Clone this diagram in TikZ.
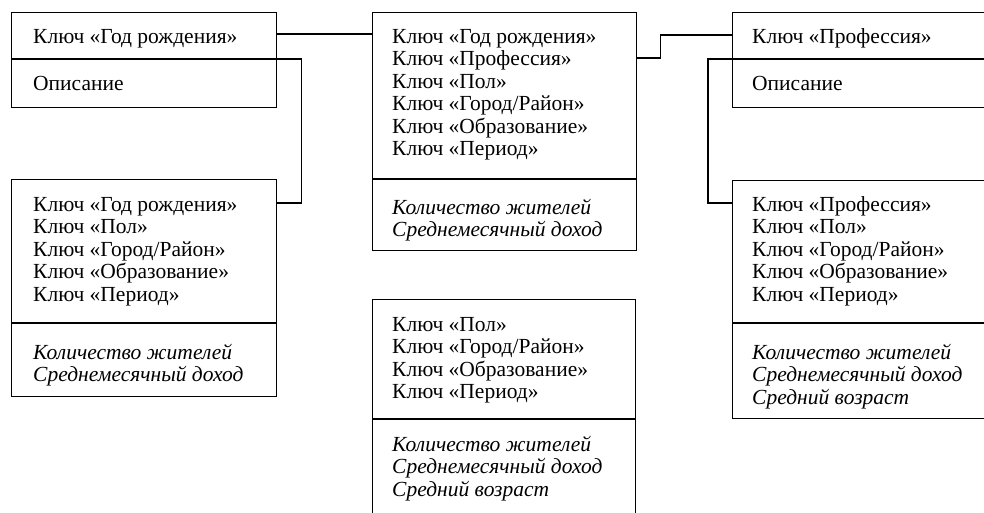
\documentclass[tikz,border=0pt]{standalone}
\usepackage{fontspec}
\setmainfont{Liberation Serif}
\begin{document}
\begin{tikzpicture}[x=1pt,y=-1pt,
  box/.style={draw,line width=1.2pt,rectangle,inner sep=0pt,anchor=north west},
  conn/.style={draw,line width=1.2pt},
  txt/.style={inner sep=0pt,anchor=base west,align=left,font=\fontsize{21.5}{22.5}\selectfont},
  itxt/.style={txt,font=\fontsize{21.5}{22.5}\selectfont\itshape}]
\useasboundingbox (0,0) rectangle (984,512);
\clip (0,0) rectangle (984,512);
% boxes
\node[box,minimum width=265pt,minimum height=95pt] (A) at (11,12) {};
\node[box,minimum width=264pt,minimum height=238pt] (B) at (372,12) {};
\node[box,minimum width=300pt,minimum height=95pt] (C) at (732,12) {};
\node[box,minimum width=265pt,minimum height=217pt] (D) at (11,179) {};
\node[box,minimum width=300pt,minimum height=238pt] (E) at (732,180) {};
\node[box,minimum width=263pt,minimum height=240pt] (F) at (372,299) {};
% dividers
\draw[conn] ([yshift=-47pt]A.north west) -- ([yshift=-47pt]A.north east);
\draw[conn] ([yshift=-167pt]B.north west) -- ([yshift=-167pt]B.north east);
\draw[conn] ([yshift=-47pt]C.north west) -- ([yshift=-47pt]C.north east);
\draw[conn] ([yshift=-144pt]D.north west) -- ([yshift=-144pt]D.north east);
\draw[conn] ([yshift=-143pt]E.north west) -- ([yshift=-143pt]E.north east);
\draw[conn] ([yshift=-120pt]F.north west) -- ([yshift=-120pt]F.north east);
% texts (anchor: baseline of the last line)
\node[txt] (a1) at (33,43) {Ключ «Год рождения»};
\node[txt] (a2) at (33,90) {Описание};
\node[txt] (b1) at (392,155.5) {Ключ «Год рождения»\\Ключ «Профессия»\\Ключ «Пол»\\Ключ «Город/Район»\\Ключ «Образование»\\Ключ «Период»};
\node[itxt] (b2) at (392,236.5) {Количество жителей\\Среднемесячный доход};
\node[txt] (c1) at (752,43) {Ключ «Профессия»};
\node[txt] (c2) at (752,90) {Описание};
\node[txt] (d1) at (33,301) {Ключ «Год рождения»\\Ключ «Пол»\\Ключ «Город/Район»\\Ключ «Образование»\\Ключ «Период»};
\node[itxt] (d2) at (33,381.5) {Количество жителей\\Среднемесячный доход};
\node[txt] (e1) at (752,301) {Ключ «Профессия»\\Ключ «Пол»\\Ключ «Город/Район»\\Ключ «Образование»\\Ключ «Период»};
\node[itxt] (e2) at (752,404) {Количество жителей\\Среднемесячный доход\\Средний возраст};
\node[txt] (f1) at (392,398.5) {Ключ «Пол»\\Ключ «Город/Район»\\Ключ «Образование»\\Ключ «Период»};
\node[itxt] (f2) at (392,496) {Количество жителей\\Среднемесячный доход\\Средний возраст};
% connectors
\draw[conn] ([yshift=-22pt]A.north east) -- ([yshift=-22pt]B.north west);
\draw[conn] ([yshift=-47pt]A.north east) -- ++(24,0) |- ([yshift=-24pt]D.north east);
\draw[conn] ([yshift=-46pt]B.north east) -- ++(23,0) |- ([yshift=-23pt]C.north west);
\draw[conn] ([yshift=-47pt]C.north west) -- ++(-24,0) |- ([yshift=-23pt]E.north west);
\end{tikzpicture}
\end{document}
